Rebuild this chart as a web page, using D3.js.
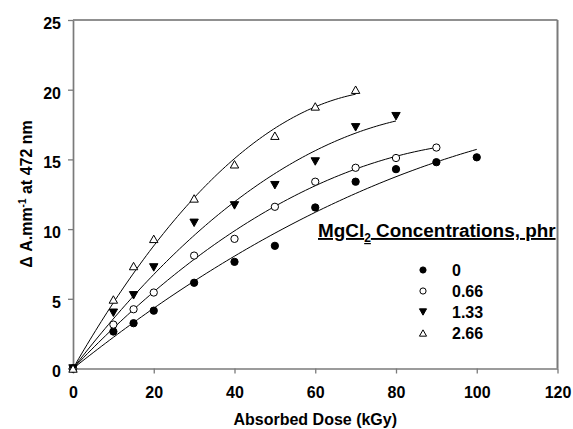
<!DOCTYPE html>
<html><head><meta charset="utf-8">
<script src="https://cdn.jsdelivr.net/npm/d3@7"></script>
<style>
html,body{margin:0;padding:0;background:#fff;}
svg{display:block;font-family:"Liberation Sans",Arial,sans-serif;font-weight:bold;}
</style></head>
<body><svg id="c" width="573" height="429"></svg>
<script>
// ---- data ----
const seriesNames = ["0", "0.66", "1.33", "2.66"];
const dose0   = [0, 10, 15, 20, 30, 40, 50, 60, 70, 80, 90, 100];
const abs0    = [0, 2.65, 3.25, 4.15, 6.15, 7.65, 8.8, 11.55, 13.4, 14.3, 14.8, 15.15];
const dose066 = [0, 10, 15, 20, 30, 40, 50, 60, 70, 80, 90];
const abs066  = [0, 3.15, 4.25, 5.45, 8.1, 9.3, 11.6, 13.4, 14.4, 15.1, 15.85];
const dose133 = [0, 10, 15, 20, 30, 40, 50, 60, 70, 80];
const abs133  = [0, 4.0, 5.25, 7.25, 10.45, 11.7, 13.15, 14.85, 17.3, 18.1];
const dose266 = [0, 10, 15, 20, 30, 40, 50, 60, 70];
const abs266  = [0, 4.95, 7.35, 9.3, 12.2, 14.65, 16.7, 18.8, 20.0];
const xTicks = [0, 20, 40, 60, 80, 100, 120];
const yTicks = [0, 5, 10, 15, 20, 25];
const xTitle = "Absorbed Dose (kGy)";
const legendTitle = ["MgCl", "2", " Concentrations, phr"];

const series = [
  {name: seriesNames[0], x: dose0,   y: abs0,   shape: "circle",  fill: "#000"},
  {name: seriesNames[1], x: dose066, y: abs066, shape: "circle",  fill: "#fff"},
  {name: seriesNames[2], x: dose133, y: abs133, shape: "tridown", fill: "#000"},
  {name: seriesNames[3], x: dose266, y: abs266, shape: "triup",   fill: "#fff"}
];

// least-squares quadratic through the origin: y = b x + c x^2
function fit(xs, ys) {
  let s2=0,s3=0,s4=0,sxy=0,sx2y=0;
  xs.forEach((x,i)=>{const y=ys[i]; s2+=x*x; s3+=x*x*x; s4+=x*x*x*x; sxy+=x*y; sx2y+=x*x*y;});
  const det = s2*s4 - s3*s3;
  const b = (sxy*s4 - s3*sx2y)/det, c = (s2*sx2y - s3*sxy)/det;
  return x => b*x + c*x*x;
}

const svg = d3.select("#c");
const L = 73, R = 557.5, T = 20, B = 368.5;
const x = d3.scaleLinear().domain([0, 120]).range([L, R]);
const y = d3.scaleLinear().domain([0, 25]).range([B, T]);
const axisGrey = "#7a7a7a";

// frame top and right
svg.append("line").attr("x1", L).attr("x2", R).attr("y1", T).attr("y2", T)
  .attr("stroke", "#222").attr("stroke-width", 1.2);
svg.append("line").attr("x1", R).attr("x2", R).attr("y1", T).attr("y2", B)
  .attr("stroke", axisGrey).attr("stroke-width", 2);

// axes
const gx = svg.append("g").attr("transform", `translate(0,${B})`)
  .call(d3.axisBottom(x).tickValues(xTicks).tickSize(5).tickSizeOuter(0).tickPadding(13));
const gy = svg.append("g").attr("transform", `translate(${L},0)`)
  .call(d3.axisLeft(y).tickValues(yTicks).tickSize(5).tickSizeOuter(0).tickPadding(7));
[gx, gy].forEach(g => {
  g.select(".domain").attr("stroke", axisGrey).attr("stroke-width", 1.7);
  g.selectAll(".tick line").attr("stroke", axisGrey).attr("stroke-width", 1.3);
  g.selectAll(".tick text").attr("fill", "#000").style("font-size", "16px")
    .style("font-family", "'Liberation Sans', Arial, sans-serif").style("font-weight", "bold");
});
gy.selectAll(".tick text").attr("dy", "0.52em");

// axis titles
svg.append("text").attr("x", (L + R) / 2).attr("y", 425).attr("text-anchor", "middle")
  .style("font-size", "16px").text(xTitle);
const yt = svg.append("text").attr("transform", "translate(32,194) rotate(-90)")
  .attr("text-anchor", "middle").style("font-size", "16px");
yt.append("tspan").text("\u0394 A.mm");
yt.append("tspan").attr("dy", -6).style("font-size", "10px").text("-1");
yt.append("tspan").attr("dy", 6).text(" at 472 nm");

// fitted curves
const line = d3.line().x(d => x(d[0])).y(d => y(d[1]));
series.forEach(s => {
  const f = fit(s.x, s.y);
  const xmax = d3.max(s.x);
  const pts = d3.range(0, xmax + 0.001, xmax / 100).map(v => [v, f(v)]);
  svg.append("path").attr("d", line(pts)).attr("fill", "none")
    .attr("stroke", "#000").attr("stroke-width", 1);
});

// marker drawing
function marker(g, shape, fill, cx, cy, size) {
  if (shape === "circle") {
    g.append("circle").attr("cx", cx).attr("cy", cy).attr("r", size / 2)
      .attr("fill", fill).attr("stroke", "#000").attr("stroke-width", 1);
  } else {
    const w = size * 1.15, h = size * 1.02;
    const pts = shape === "triup"
      ? [[cx - w/2, cy + h/2], [cx + w/2, cy + h/2], [cx, cy - h/2]]
      : [[cx - w/2, cy - h/2], [cx + w/2, cy - h/2], [cx, cy + h/2]];
    g.append("polygon").attr("points", pts.map(p => p.join(",")).join(" "))
      .attr("fill", fill).attr("stroke", "#000").attr("stroke-width", 1)
      .attr("stroke-linejoin", "miter");
  }
}
series.forEach(s => {
  const g = svg.append("g");
  s.x.forEach((xv, i) => marker(g, s.shape, s.fill, x(xv), y(s.y[i]), 7.3));
});

// legend
const lt = svg.append("text").attr("x", 318).attr("y", 237)
  .style("font-size", "18.9px").style("text-decoration", "underline");
lt.append("tspan").text(legendTitle[0]);
lt.append("tspan").attr("dy", 5).style("font-size", "12px").text(legendTitle[1]);
lt.append("tspan").attr("dy", -5).text(legendTitle[2]);

const lg = svg.append("g");
series.forEach((s, i) => {
  const cy = 270 + i * 21;
  marker(lg, s.shape, s.fill, 423, cy, 6.2);
  lg.append("text").attr("x", 452).attr("y", cy).attr("dy", "0.36em")
    .style("font-size", "16px").text(s.name);
});
</script></body></html>
